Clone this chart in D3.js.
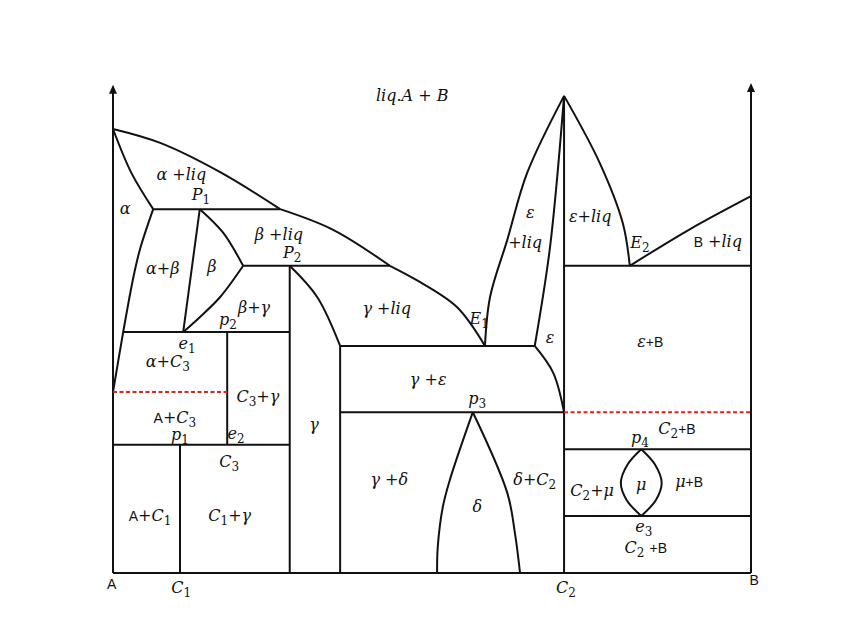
<!DOCTYPE html>
<html>
<head>
<meta charset="utf-8">
<script src="https://cdn.jsdelivr.net/npm/d3@7"></script>
<style>
  body { margin: 0; background: #fff; }
</style>
</head>
<body>
<div id="chart"></div>
<script>
const WIDTH = 848;
const HEIGHT = 636;

// composition (0 = A, 100 = B) and temperature (arbitrary units) of the diagram
// liquidus / solidus / solvus curves, as [composition, temperature]
const liquidusAlpha = [[0, 92.5], [7.4, 89.6], [16.8, 83.5], [26.2, 75.8]];
const liquidusBeta = [[26.2, 75.8], [34.5, 71.5], [43.4, 64.0]];
const liquidusGamma = [[43.4, 64.0], [47.6, 61.0], [53.9, 55.4], [58.3, 47.3]];
const solidusAlpha = [[0, 92.5], [2.9, 83.3], [6.3, 75.8]];
const solvusAlpha = [[6.3, 75.8], [4.2, 67.3], [3.1, 61.0], [1.6, 50.2], [0, 37.7]];
const betaLeft = [[13.6, 75.8], [11.0, 50.2]];
const betaTop = [[13.6, 75.8], [17.2, 71.0], [20.4, 64.0]];
const betaBottom = [[20.4, 64.0], [16.8, 57.5], [13.6, 53.3], [11.0, 50.2]];
const gammaRight = [[27.7, 64.0], [32.0, 57.5], [35.6, 47.3]];
const liquidusEpsLeft = [[58.3, 47.3], [59.1, 57.5], [61.8, 69.4], [64.9, 83.3], [70.7, 99.4]];
const solidusEps = [[70.7, 99.4], [68.5, 67.9], [66.1, 47.3]];
const solvusEps = [[66.1, 47.3], [69.0, 41.7], [70.7, 33.5]];
const liquidusEpsRight = [[70.7, 99.4], [76.3, 85.4], [79.9, 72.9], [81.0, 64.0]];
const liquidusB = [[81.0, 64.0], [90.4, 71.6], [100, 78.5]];
const deltaLeft = [[56.4, 33.5], [52.8, 19.4], [51.7, 13.8], [50.9, 5.4], [50.8, 0]];
const deltaRight = [[56.4, 33.5], [61.8, 16.7], [63.0, 8.3], [63.8, 0]];
const muLeft = [[82.8, 25.8], [80.7, 22.7], [79.6, 18.8], [80.5, 15.2], [82.8, 11.9]];
const muRight = [[82.8, 25.8], [84.9, 22.7], [86.0, 18.8], [85.1, 15.2], [82.8, 11.9]];
const curves = [liquidusAlpha, liquidusBeta, liquidusGamma, solidusAlpha, solvusAlpha,
                betaLeft, betaTop, betaBottom, gammaRight,
                liquidusEpsLeft, solidusEps, solvusEps, liquidusEpsRight, liquidusB,
                deltaLeft, deltaRight, muLeft, muRight];

// isotherms: [from composition, to composition, temperature]
const isotherms = [[6.3, 26.2, 75.8], [20.4, 43.4, 64.0], [1.6, 27.7, 50.2], [35.6, 66.1, 47.3],
                   [35.6, 70.7, 33.5], [0, 27.7, 26.7], [70.7, 100, 64.0], [70.7, 100, 25.8],
                   [70.7, 100, 11.9], [0, 100, 0]];
// compound lines: [composition, from temperature, to temperature]
const verticals = [[27.7, 64.0, 0], [35.6, 47.3, 0], [17.9, 50.2, 26.7], [10.5, 26.7, 0], [70.7, 99.4, 0]];
// dashed (red) lines
const dashed = [[0, 17.9, 37.7], [70.7, 100, 33.5]];
// temperature axes at A and B
const axes = [[0, 101.7], [100, 102.1]];

// labels: [composition, temperature, text]  ({..} = upright sans, _x = subscript)
const labels = [
  [46.9, 99.6, "liq.A + B"],
  [10.7, 83.1, "α +liq"], [13.8, 78.8, "P_1"], [1.9, 76.0, "α"],
  [7.8, 63.5, "α+β"], [15.5, 63.8, "β"], [26.0, 70.6, "β +liq"], [28.1, 66.8, "P_2"],
  [22.1, 55.4, "β+γ"], [18.0, 52.8, "p_2"], [11.6, 47.9, "e_1"], [8.6, 44.0, "α+C_3"],
  [22.7, 36.7, "C_3+γ"], [9.7, 32.5, "{A}+C_3"], [10.5, 28.8, "p_1"], [19.3, 29.0, "e_2"],
  [18.2, 23.3, "C_3"], [31.5, 31.0, "γ"], [5.8, 12.1, "{A}+C_1"], [18.3, 11.9, "C_1+γ"],
  [-0.2, -2.1, "{A}"], [10.7, -3.1, "C_1"],
  [42.9, 55.2, "γ +liq"], [57.4, 53.1, "E_1"], [49.4, 40.4, "γ +ε"], [57.1, 36.3, "p_3"],
  [43.3, 19.4, "γ +δ"], [57.1, 13.8, "δ"], [66.1, 19.6, "δ+C_2"], [71.0, -3.1, "C_2"],
  [65.4, 75.2, "ε"], [64.6, 68.8, "+liq"], [68.5, 49.0, "ε"], [74.8, 74.2, "ε+liq"],
  [82.6, 68.8, "E_2"], [94.8, 69.0, "{B} +liq"], [84.2, 48.3, "ε{+B}"], [88.4, 30.2, "C_2{+B}"],
  [82.6, 28.2, "p_4"], [75.1, 17.3, "C_2+μ"], [82.8, 18.5, "μ"], [90.3, 19.0, "μ{+B}"],
  [83.2, 9.8, "e_3"], [83.5, 5.4, "C_2 {+B}"], [100.5, -1.3, "{B}"]
];

const x = d3.scaleLinear().domain([0, 100]).range([113, 751]);
const y = d3.scaleLinear().domain([0, 100]).range([573, 93]);

const svg = d3.select('#chart')
    .append('svg')
    .attr('width', WIDTH)
    .attr('height', HEIGHT);

const line = d3.line()
    .x(d => x(d[0]))
    .y(d => y(d[1]))
    .curve(d3.curveCatmullRom.alpha(0.5));

const ink = svg.append('g')
    .attr('fill', 'none')
    .attr('stroke', '#111')
    .attr('stroke-width', 2);

ink.selectAll('path.curve')
    .data(curves)
    .enter()
    .append('path')
    .attr('class', 'curve')
    .attr('d', line);

ink.selectAll('line.iso')
    .data(isotherms)
    .enter()
    .append('line')
    .attr('x1', d => x(d[0]))
    .attr('x2', d => x(d[1]))
    .attr('y1', d => y(d[2]))
    .attr('y2', d => y(d[2]));

ink.selectAll('line.vert')
    .data(verticals)
    .enter()
    .append('line')
    .attr('x1', d => x(d[0]))
    .attr('x2', d => x(d[0]))
    .attr('y1', d => y(d[1]))
    .attr('y2', d => y(d[2]));

svg.selectAll('line.dash')
    .data(dashed)
    .enter()
    .append('line')
    .attr('x1', d => x(d[0]))
    .attr('x2', d => x(d[1]))
    .attr('y1', d => y(d[2]))
    .attr('y2', d => y(d[2]))
    .attr('stroke', '#e8201c')
    .attr('stroke-width', 2)
    .attr('stroke-dasharray', '4,2.5');

// axes with arrow heads
ink.selectAll('line.axis')
    .data(axes)
    .enter()
    .append('line')
    .attr('x1', d => x(d[0]))
    .attr('x2', d => x(d[0]))
    .attr('y1', y(0))
    .attr('y2', d => y(d[1]) + 4);

svg.selectAll('path.arrow')
    .data(axes)
    .enter()
    .append('path')
    .attr('d', d => `M${x(d[0])},${y(d[1])} l-4,9 l8,0 z`)
    .attr('fill', '#111');

// labels
const label = svg.append('g')
    .attr('fill', '#111')
    .attr('text-anchor', 'middle')
    .selectAll('text')
    .data(labels)
    .enter()
    .append('text')
    .attr('x', d => x(d[0]))
    .attr('y', d => y(d[1]))
    .attr('dy', '0.35em')
    .style('font-family', '"DejaVu Serif", serif')
    .style('font-style', 'italic')
    .style('font-size', '16px');

label.each(function (d) {
    const t = d3.select(this);
    const parts = d[2].match(/\{[^}]*\}|_.|[^{_]+/g);
    let shift = 0;
    parts.forEach(p => {
        const span = t.append('tspan');
        if (p[0] === '{') {
            span.text(p.slice(1, -1))
                .style('font-family', '"Liberation Sans", sans-serif')
                .style('font-style', 'normal')
                .style('font-size', '14px');
        } else if (p[0] === '_') {
            span.text(p.slice(1))
                .style('font-style', 'normal')
                .style('font-size', '12px');
            span.attr('dy', 4);
            shift = 4;
            return;
        } else {
            span.text(p);
        }
        if (shift) { span.attr('dy', -shift); shift = 0; }
    });
});
</script>
</body>
</html>
